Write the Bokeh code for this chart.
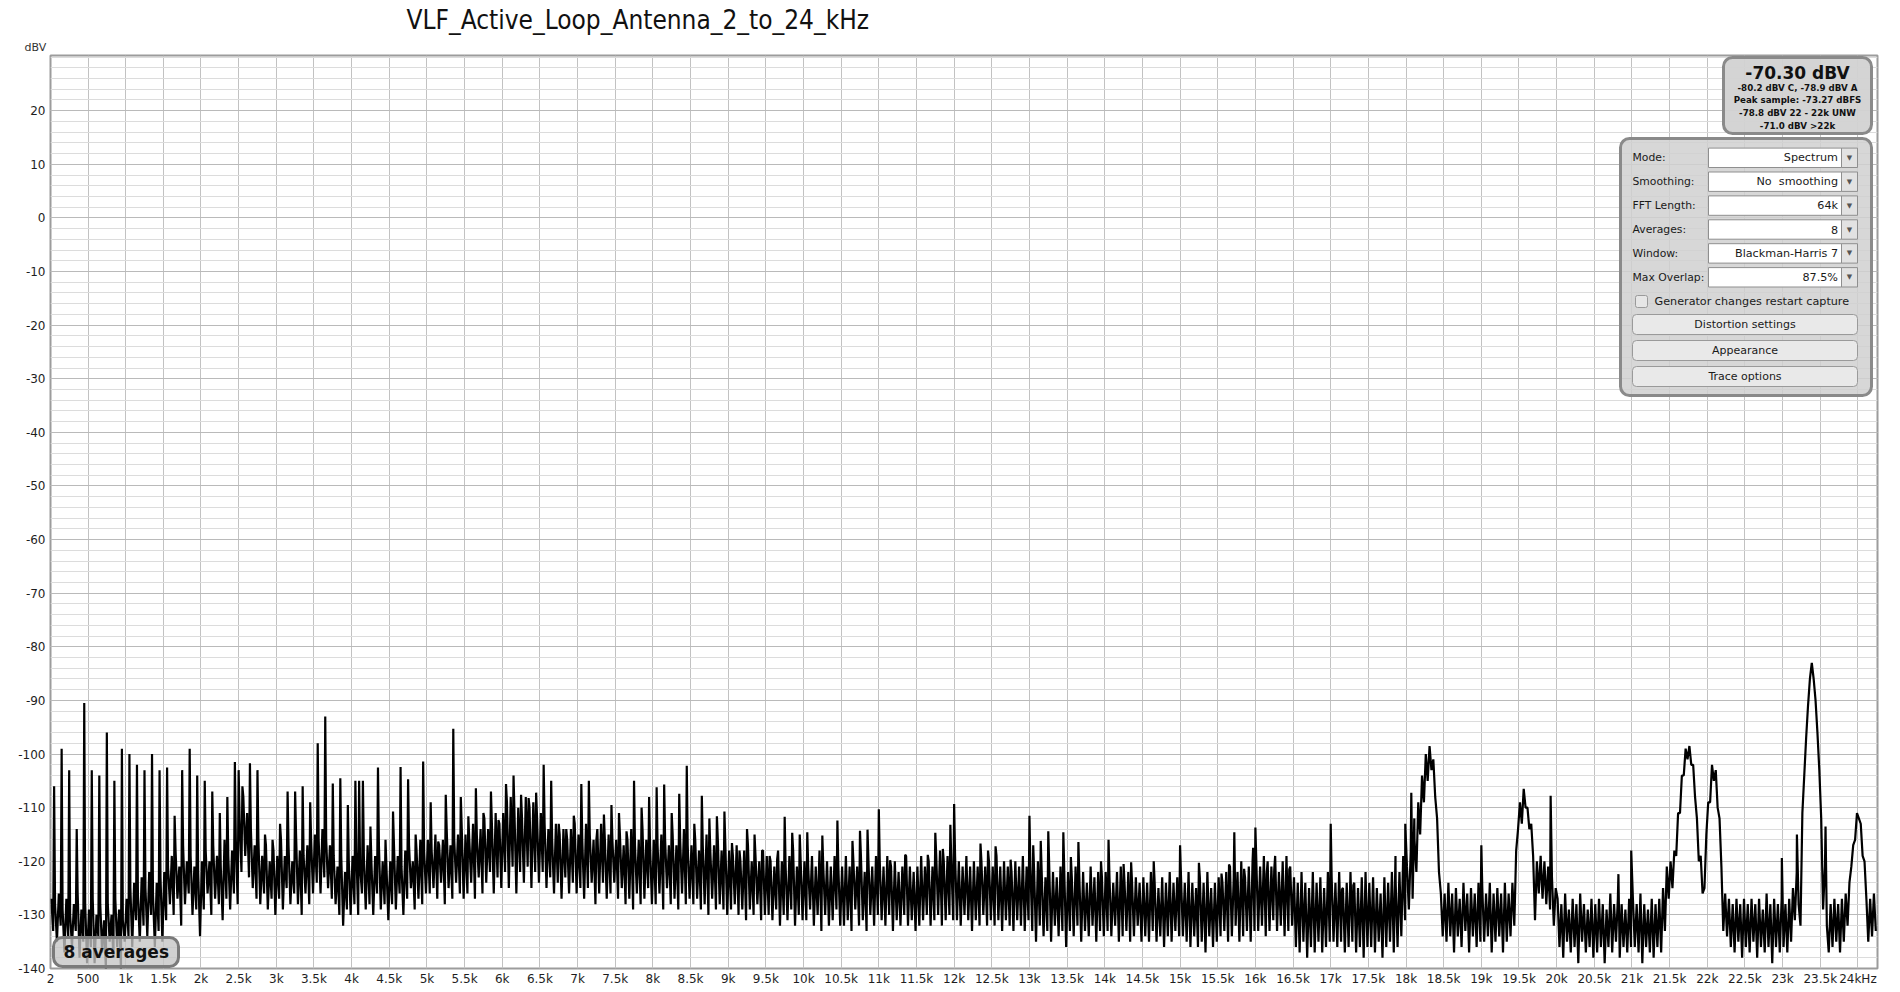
import numpy as np
from bokeh.plotting import figure
from bokeh.models import FixedTicker, Label, BoxAnnotation, Range1d, CustomJSTickFormatter, Title
from bokeh.embed import file_html
from bokeh.resources import INLINE

# ---------------- data ----------------
TITLE = "VLF_Active_Loop_Antenna_2_to_24_kHz"
Y_UNIT = "dBV"

x_ticks = [0.002, 0.5, 1, 1.5, 2, 2.5, 3, 3.5, 4, 4.5, 5, 5.5, 6, 6.5, 7, 7.5, 8, 8.5, 9, 9.5,
           10, 10.5, 11, 11.5, 12, 12.5, 13, 13.5, 14, 14.5, 15, 15.5, 16, 16.5, 17, 17.5,
           18, 18.5, 19, 19.5, 20, 20.5, 21, 21.5, 22, 22.5, 23, 23.5, 24]
x_tick_labels = ["2", "500", "1k", "1.5k", "2k", "2.5k", "3k", "3.5k", "4k", "4.5k", "5k", "5.5k",
                 "6k", "6.5k", "7k", "7.5k", "8k", "8.5k", "9k", "9.5k", "10k", "10.5k", "11k",
                 "11.5k", "12k", "12.5k", "13k", "13.5k", "14k", "14.5k", "15k", "15.5k", "16k",
                 "16.5k", "17k", "17.5k", "18k", "18.5k", "19k", "19.5k", "20k", "20.5k", "21k",
                 "21.5k", "22k", "22.5k", "23k", "23.5k", "24kHz"]
y_ticks = [-140, -130, -120, -110, -100, -90, -80, -70, -60, -50, -40, -30, -20, -10, 0, 10, 20]
y_minor = list(range(-140, 31, 2))

# spectrum level per 25 Hz bin (bins at 12.5, 37.5, 62.5 ... Hz), 20 bins per 500 Hz row
noise_db = [
    -127, -133, -128, -135, -126, -132, -129, -137, -127, -134, -130, -136, -128, -133, -126, -138, -129, -135, -128, -139,  # 0
    -129, -136, -127, -139, -130, -134, -128, -137, -131, -140, -128, -135, -130, -138, -127, -136, -129, -140, -131, -135,  # 0.5k
    -127, -134, -125, -136, -124, -131, -126, -135, -123, -132, -125, -134, -122, -130, -126, -136, -124, -133, -123, -135,  # 1k
    -122, -131, -121, -128, -119, -130, -118, -127, -121, -132, -117, -128, -120, -126, -119, -130, -121, -129, -122, -134,  # 1.5k
    -120, -129, -118, -126, -120, -130, -117, -127, -119, -128, -121, -131, -116, -127, -119, -129, -118, -126, -116, -128,  # 2k
    -112, -122, -108, -119, -111, -123, -114, -125, -117, -127, -116, -128, -119, -126, -117, -129, -120, -127, -118, -130,  # 2.5k
    -119, -127, -116, -129, -119, -125, -117, -128, -120, -126, -115, -128, -118, -130, -119, -126, -117, -128, -116, -126,  # 3k
    -115, -124, -116, -126, -114, -123, -116, -125, -117, -127, -119, -128, -121, -130, -119, -132, -122, -129, -120, -130,  # 3.5k
    -119, -128, -118, -130, -121, -126, -119, -129, -117, -128, -120, -130, -119, -126, -117, -129, -120, -128, -121, -131,  # 4k
    -120, -128, -117, -129, -119, -126, -121, -130, -118, -127, -117, -125, -120, -129, -118, -127, -116, -128, -118, -126,  # 4.5k
    -116, -126, -118, -125, -115, -127, -117, -124, -116, -128, -114, -125, -117, -127, -116, -124, -115, -126, -114, -127,  # 5k
    -115, -126, -116, -124, -113, -127, -115, -123, -114, -126, -112, -124, -114, -122, -113, -126, -111, -123, -113, -125,  # 5.5k
    -111, -122, -109, -125, -108, -121, -111, -126, -110, -122, -112, -124, -108, -121, -110, -125, -109, -122, -112, -124,  # 6k
    -111, -122, -113, -125, -114, -123, -116, -126, -113, -124, -115, -127, -114, -123, -116, -126, -114, -124, -113, -126,  # 6.5k
    -115, -125, -116, -127, -113, -125, -115, -124, -116, -128, -114, -126, -113, -124, -116, -127, -115, -126, -116, -124,  # 7k
    -116, -127, -115, -125, -117, -128, -116, -127, -114, -129, -117, -126, -116, -128, -114, -127, -116, -125, -117, -128,  # 7.5k
    -116, -128, -117, -126, -115, -129, -116, -125, -117, -128, -115, -127, -117, -129, -116, -126, -114, -128, -117, -127,  # 8k
    -117, -128, -116, -127, -118, -129, -117, -128, -115, -130, -118, -127, -117, -129, -116, -128, -118, -129, -117, -130,  # 8.5k
    -118, -129, -119, -128, -117, -130, -120, -129, -118, -131, -117, -129, -120, -130, -119, -128, -120, -131, -118, -130,  # 9k
    -119, -130, -120, -131, -121, -129, -118, -132, -120, -130, -121, -131, -119, -129, -118, -132, -121, -130, -120, -131,  # 9.5k
    -120, -131, -121, -129, -119, -132, -121, -130, -118, -133, -121, -130, -120, -132, -121, -131, -119, -129, -121, -132,  # 10k
    -121, -132, -119, -131, -121, -133, -120, -129, -121, -132, -119, -131, -122, -133, -120, -130, -121, -132, -119, -130,  # 10.5k
    -120, -131, -121, -132, -119, -130, -121, -133, -120, -131, -122, -132, -121, -130, -119, -132, -121, -131, -122, -133,  # 11k
    -121, -132, -119, -131, -121, -130, -120, -132, -121, -131, -119, -130, -118, -132, -120, -131, -119, -130, -120, -131,  # 11.5k
    -119, -131, -120, -132, -121, -130, -119, -131, -121, -133, -120, -131, -121, -132, -120, -130, -121, -132, -120, -131,  # 12k
    -121, -132, -119, -131, -121, -133, -120, -131, -121, -132, -122, -133, -120, -131, -121, -132, -119, -133, -121, -131,  # 12.5k
    -121, -133, -122, -135, -120, -132, -122, -134, -123, -133, -121, -135, -122, -132, -123, -134, -121, -133, -122, -136,  # 13k
    -122, -133, -123, -134, -121, -132, -123, -135, -122, -133, -124, -134, -121, -132, -123, -135, -122, -133, -123, -134,  # 13.5k
    -122, -133, -123, -134, -124, -132, -122, -135, -121, -134, -124, -133, -122, -135, -124, -134, -123, -132, -124, -135,  # 14k
    -123, -134, -124, -135, -122, -133, -124, -135, -125, -134, -123, -136, -124, -134, -122, -135, -124, -133, -123, -134,  # 14.5k
    -123, -134, -124, -135, -122, -136, -124, -134, -125, -136, -123, -135, -124, -137, -122, -134, -125, -136, -124, -135,  # 15k
    -123, -134, -124, -133, -122, -135, -121, -134, -123, -132, -122, -135, -120, -134, -123, -133, -121, -135, -120, -133,  # 15.5k
    -120, -133, -121, -132, -119, -134, -120, -133, -121, -131, -119, -133, -122, -132, -120, -134, -119, -133, -121, -132,  # 16k
    -123, -136, -124, -137, -122, -135, -124, -138, -125, -136, -122, -137, -124, -135, -123, -137, -125, -136, -122, -135,  # 16.5k
    -123, -135, -124, -136, -122, -135, -125, -137, -124, -136, -122, -135, -124, -137, -125, -136, -123, -138, -122, -136,  # 17k
    -124, -136, -123, -137, -125, -135, -126, -138, -123, -136, -124, -135, -122, -137, -124, -136, -122, -134, -119, -131,  # 17.5k
    -121, -129, -118, -127, -116, -122, -109, -115, -104, -109, -100, -105, -98.5, -103, -101, -108, -112, -122, -126, -134,  # 18k
    -126, -135, -124, -134, -126, -137, -125, -134, -127, -136, -124, -133, -126, -137, -125, -134, -126, -136, -124, -135,  # 18.5k
    -125, -135, -126, -134, -124, -137, -126, -135, -125, -134, -126, -137, -124, -135, -126, -134, -124, -132, -118, -114,  # 19k
    -109, -113, -106.5, -110, -110, -114, -113, -119, -131, -120, -126, -119, -127, -120, -128, -121, -129, -123, -132, -125,  # 19.5k
    -127, -136, -128, -138, -126, -135, -129, -137, -127, -136, -128, -139, -126, -135, -128, -137, -129, -136, -127, -138,  # 20k
    -128, -137, -127, -136, -128, -139, -129, -136, -126, -137, -128, -135, -127, -138, -128, -136, -129, -137, -127, -136,  # 20.5k
    -127, -136, -128, -137, -126, -139, -128, -136, -129, -137, -127, -138, -128, -136, -127, -137, -125, -133, -121, -127,  # 21k
    -120, -125, -118, -119, -111, -111, -104, -104, -99, -101, -98.5, -102, -102, -108, -112, -120, -119, -126, -125, -115,  # 21.5k
    -109, -109, -102, -105, -103, -110, -112, -121, -133, -126, -134, -127, -136, -128, -137, -127, -135, -128, -138, -127,  # 22k
    -136, -128, -137, -127, -135, -128, -138, -127, -136, -129, -137, -126, -136, -128, -139, -127, -136, -128, -137, -127,  # 22.5k
    -136, -128, -137, -127, -135, -125, -131, -122, -128, -132, -111, -104, -97, -91, -86, -83, -86, -90, -96, -103,          # 23k
    -112, -129, -121, -132, -137, -128, -136, -127, -135, -128, -137, -127, -135, -126, -132, -124, -121, -117, -116, -111,  # 23.5k
    -112, -113, -119, -120, -127, -135, -127, -134, -126, -133,                                                              # 24k
]

# narrow tones (mains harmonics and other carriers)
tone_khz = [0.05, 0.15, 0.25, 0.35, 0.45, 0.55, 0.65, 0.75, 0.85, 0.95, 1.05, 1.15, 1.25, 1.35,
            1.45, 1.55, 1.65, 1.75, 1.85, 1.95, 2.05, 2.15, 2.25, 2.35, 2.45, 2.5, 2.55, 2.65,
            2.75, 2.85, 2.95, 3.05, 3.15, 3.25, 3.35, 3.45, 3.55, 3.65, 3.75, 3.85, 3.95, 4.05,
            4.1, 4.15, 4.25, 4.35, 4.45, 4.55, 4.65, 4.75, 4.85, 4.95, 5.05, 5.15, 5.25, 5.35,
            5.45, 5.55, 5.65, 5.75, 5.85, 5.95, 6.05, 6.15, 6.25, 6.35, 6.45, 6.55, 6.65, 6.75,
            6.85, 6.95, 7.05, 7.15, 7.25, 7.35, 7.45, 7.55, 7.65, 7.75, 7.85, 7.95, 8.05, 8.15,
            8.25, 8.35, 8.45, 8.55, 8.65, 8.75, 8.85, 8.95, 9.05, 9.15, 9.25, 9.35, 9.45, 9.55,
            9.65, 9.75, 9.85, 9.95, 10.05, 10.25, 10.45, 10.65, 10.75, 10.85, 11.0, 11.15, 11.35,
            11.65, 11.75, 11.85, 11.95, 12.0, 12.35, 12.45, 12.55, 12.75, 13.0, 13.05, 13.15,
            13.25, 13.45, 13.55, 13.65, 13.95, 14.05, 14.25, 14.35, 14.65, 15.0, 15.25, 15.55,
            15.65, 15.72, 15.85, 15.97, 16.0, 16.15, 16.25, 16.45, 17.0, 17.15, 17.3, 17.86,
            17.99, 18.07, 18.11, 19.0, 19.92, 20.82, 20.99, 22.99, 23.19, 23.57]
tone_db = [-106, -99, -103, -114, -90.5, -103, -104, -96, -105, -99, -100, -102, -103, -100,
           -103, -102.5, -111.5, -103, -99, -104, -105, -107, -111, -108, -101.5, -103, -106, -101.7,
           -103, -115, -116, -113, -107, -107, -106, -109, -98, -93, -105.5, -104.5, -109.5, -105,
           -105, -105, -113.5, -102.5, -116, -110.7, -102.4, -104.7, -115, -101.4, -109, -116.3, -107.6, -95.3,
           -108, -111.6, -106.4, -111, -107, -112.3, -105.6, -104, -107.6, -108.2, -107.2, -102, -105, -113,
           -114, -111.5, -105.6, -105, -116, -111.3, -109.5, -111, -114.4, -105, -110, -108, -106.2, -105.7,
           -111, -107.4, -102.2, -113, -107.8, -112, -111.6, -110.7, -116.6, -118, -114, -115, -118, -119,
           -119.7, -111.7, -114.7, -115, -114.6, -115.2, -112.4, -116.2, -114.3, -114.1, -110.3, -119.8, -118.8,
           -118.8, -114.7, -117.7, -113.2, -109.3, -116.7, -118, -117.2, -119.7, -111.5, -117, -116.2,
           -114.4, -114.6, -119.2, -116.4, -120, -116, -120.5, -120.2, -120, -117, -120.3, -122.3,
           -120.6, -114.6, -121.4, -117.5, -113.7, -122.4, -121.6, -121.5, -113, -125.2, -124.5, -119,
           -113, -107.2, -112, -117, -107.8, -122.4, -118, -119.4, -115, -113.5]

info_main = "-70.30 dBV"
info_lines = ["-80.2 dBV C, -78.9 dBV A", "Peak sample: -73.27 dBFS",
              "-78.8 dBV 22 - 22k UNW", "-71.0 dBV >22k"]
panel_rows = [("Mode:", "Spectrum"), ("Smoothing:", "No\u00a0 smoothing"), ("FFT Length:", "64k"),
              ("Averages:", "8"), ("Window:", "Blackman-Harris 7"), ("Max Overlap:", "87.5%")]
checkbox_text = "Generator changes restart capture"
buttons = ["Distortion settings", "Appearance", "Trace options"]
avg_text = "8 averages"

# ---------------- build trace ----------------
bin_khz = 0.0125 + 0.025 * np.arange(len(noise_db))
f_all = np.concatenate([bin_khz, np.array(tone_khz)])
v_all = np.concatenate([np.array(noise_db, float), np.array(tone_db, float)])
order = np.argsort(f_all, kind="stable")
f_all, v_all = f_all[order], v_all[order]

# ---------------- figure ----------------
X0, X1, Y0, Y1 = 0.002, 24.26, -140, 30.3
W, H = 1890, 990
ML, MT, MR, MB = 50, 55, 13, 22
FW, FH = W - ML - MR, H - MT - MB

p = figure(width=W, height=H, x_range=Range1d(X0, X1), y_range=Range1d(Y0, Y1),
           output_backend="svg", toolbar_location=None,
           min_border_left=ML, min_border_top=MT, min_border_right=MR, min_border_bottom=MB)
p.background_fill_color = "white"
p.border_fill_color = "white"
p.outline_line_color = "#9c9c9c"
p.outline_line_width = 2

p.xaxis.ticker = FixedTicker(ticks=x_ticks)
p.xaxis.formatter = CustomJSTickFormatter(args=dict(tick_vals=x_ticks, tick_names=x_tick_labels), code="""
    for (let i = 0; i < tick_vals.length; i++) {
        if (Math.abs(tick_vals[i] - tick) < 1e-6) return tick_names[i];
    }
    return "";
""")
p.yaxis.ticker = FixedTicker(ticks=y_ticks, minor_ticks=y_minor)
p.yaxis.formatter = CustomJSTickFormatter(code="return String(Math.round(tick));")
for ax in (p.xaxis[0], p.yaxis[0]):
    ax.axis_line_color = None
    ax.major_tick_line_color = None
    ax.minor_tick_line_color = None
    ax.major_tick_out = 0
    ax.minor_tick_out = 0
    ax.major_tick_in = 0
    ax.minor_tick_in = 0
    ax.major_label_text_font = "DejaVu Sans"
    ax.major_label_text_font_size = "12px"
    ax.major_label_text_color = "#1e1e1e"
p.xaxis.major_label_standoff = 3
p.yaxis.major_label_standoff = 5

p.xgrid.grid_line_color = "#c2c2c2"
p.ygrid.grid_line_color = "#bababa"
p.ygrid.minor_grid_line_color = "#dcdcdc"

p.line(f_all, v_all, line_color="black", line_width=2.2)

# titles outside the frame
p.add_layout(Title(text=Y_UNIT, align="left", offset=-26, vertical_align="middle", standoff=2,
                   text_font="DejaVu Sans", text_font_size="11px", text_font_style="normal",
                   text_color="#333333"), "above")
p.add_layout(Title(text=TITLE, align="left", offset=356, vertical_align="middle", standoff=5,
                   text_font="DejaVu Sans Condensed", text_font_size="26px", text_font_style="normal",
                   text_color="#111111"), "above")

# ---------------- decorations (page-pixel helpers) ----------------
PL, PT = ML, MT


def dx(px):
    return X0 + (px - PL) / FW * (X1 - X0)


def dy(py):
    return Y0 + (PT + FH - py) / FH * (Y1 - Y0)


def box(l, t, r, b, fill, alpha=1.0, line="#8a8a8a", lw=1, radius=0):
    p.add_layout(BoxAnnotation(left=dx(l), right=dx(r), top=dy(t), bottom=dy(b),
                               fill_color=fill, fill_alpha=alpha, line_color=line,
                               line_width=lw, line_alpha=1.0, border_radius=radius))


def text(x, y, s, size, bold=False, align="left", color="#1a1a1a", font="DejaVu Sans"):
    p.add_layout(Label(x=dx(x), y=dy(y), text=s, text_font=font, text_font_size=f"{size}px",
                       text_font_style="bold" if bold else "normal", text_align=align,
                       text_baseline="middle", text_color=color))


# info box
box(1723, 57, 1871, 133, "#d2d2d2", 0.95, "#8a8a8a", 3, 9)
text(1797, 72.5, info_main, 17, bold=True, align="center", color="#111111")
for i, s in enumerate(info_lines):
    text(1797, 87 + 12.7 * i, s, 8.7, bold=True, align="center", color="#111111")

# settings panel
box(1620, 138, 1871, 395, "#d0d0d0", 0.85, "#8a8a8a", 3, 9)
for i, (lab, val) in enumerate(panel_rows):
    yc = 157.3 + 23.9 * i
    text(1632, yc, lab, 10.8)
    box(1708, yc - 9.7, 1841, yc + 9.7, "white", 1.0, "#8f8f8f", 1, 0)
    box(1841, yc - 9.7, 1857, yc + 9.7, "#e2e2e2", 1.0, "#8f8f8f", 1, 0)
    text(1849, yc, "\u25bc", 7, align="center", color="#555555")
    text(1837.5, yc, val, 11.2, align="right")
box(1635, 295, 1647, 307, "#e6e6e6", 1.0, "#9a9a9a", 1, 2)
text(1654, 300.8, checkbox_text, 11.2)
for i, s in enumerate(buttons):
    t = 314 + 26 * i
    box(1632, t, 1857, t + 20, "#e9e9e9", 1.0, "#9a9a9a", 1, 4)
    text(1744.5, t + 10, s, 11, align="center")

# averages badge
box(53, 937, 178, 966, "#c4c4c4", 0.78, "#7a7a7a", 3, 9)
text(63, 951.5, avg_text, 17, bold=True, color="#111111")

open("out.html", "w").write(file_html(p, INLINE))
